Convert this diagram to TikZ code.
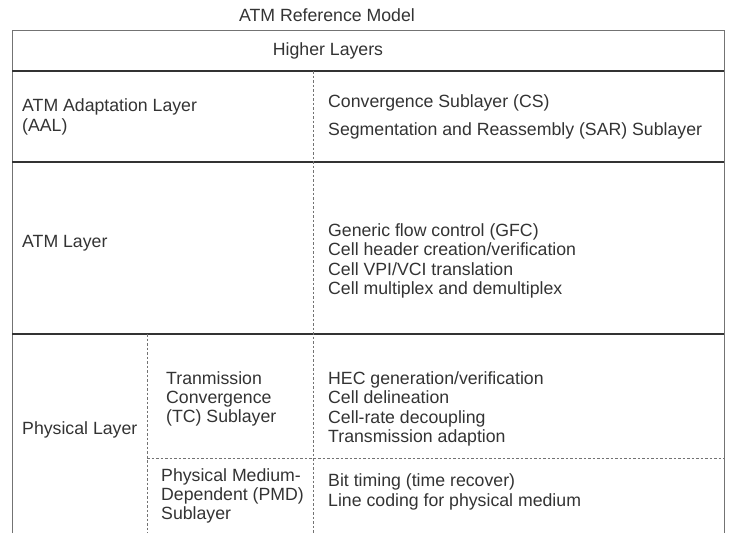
\documentclass[tikz,border=0pt]{standalone}
\usepackage{fontspec}
\setmainfont{Liberation Sans}
\usepackage{tikz}

\definecolor{inkgray}{gray}{0.2}
\definecolor{rulegray}{gray}{0.45}
\tikzset{
  txt/.style={inner sep=0pt, align=left, text=inkgray, font=\fontsize{17.7}{19.4}\selectfont},
  heavyrule/.style={line width=2pt, draw=inkgray},
  thinrule/.style={line width=0.8pt, draw=rulegray},
  splitrule/.style={line width=0.8pt, draw=rulegray, dash pattern=on 2.5pt off 2pt}
}

\begin{document}
\begin{tikzpicture}[x=1pt, y=-1pt]
\useasboundingbox (0,0) rectangle (730,533);

% frame, open at the bottom
\draw[thinrule] (12,533) -- (12,30) -- (724,30) -- (724,533);
\draw[heavyrule] (12,71) -- (724,71);
\draw[heavyrule] (12,162) -- (724,162);
\draw[heavyrule] (12,334) -- (724,334);

% dashed divisions
\draw[splitrule] (313,71) -- (313,533);
\draw[splitrule] (147,334) -- (147,533);
\draw[splitrule] (147,458) -- (724,458);

\node[txt] (title) at (327,15) {ATM Reference Model};
\node[txt] (higher) at (328,51) {Higher Layers};

\node[txt, anchor=west] (aal) at (22,117) {ATM Adaptation Layer\\(AAL)};
\node[txt, anchor=west] (cs) at (328,103) {Convergence Sublayer (CS)};
\node[txt, anchor=west] (sar) at (328,131) {Segmentation and Reassembly (SAR) Sublayer};

\node[txt, anchor=west] (atm) at (22,243) {ATM Layer};
\node[txt, anchor=west] (atmfn) at (328,261) {Generic flow control (GFC)\\Cell header creation/verification\\Cell VPI/VCI translation\\Cell multiplex and demultiplex};

\node[txt, anchor=west] (phy) at (22,430) {Physical Layer};
\node[txt, anchor=west] (tc) at (166,399) {Tranmission\\Convergence\\(TC) Sublayer};
\node[txt, anchor=west] (tcfn) at (328,409) {HEC generation/verification\\Cell delineation\\Cell-rate decoupling\\Transmission adaption};
\node[txt, anchor=west] (pmd) at (161,496) {Physical Medium-\\Dependent (PMD)\\Sublayer};
\node[txt, anchor=west] (pmdfn) at (328,492) {Bit timing (time recover)\\Line coding for physical medium};
\end{tikzpicture}
\end{document}
